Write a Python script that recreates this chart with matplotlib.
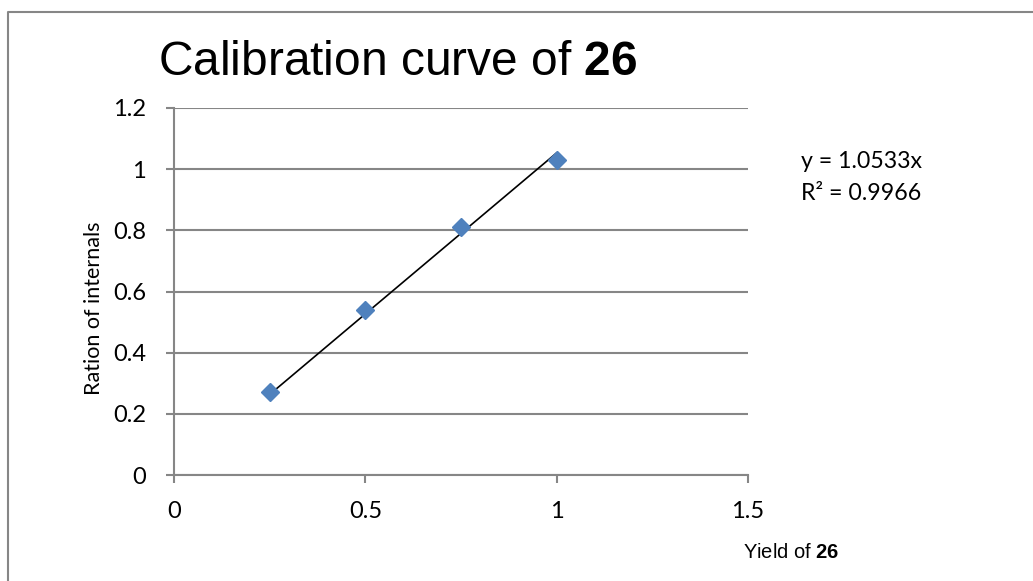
import matplotlib.pyplot as plt
import numpy as np
from matplotlib.lines import Line2D

# calibration data
yield_26 = [0.25, 0.5, 0.75, 1.0]
ratio = [0.27, 0.54, 0.81, 1.03]
x_ticks = [0, 0.5, 1, 1.5]
x_tick_labels = ["0", "0.5", "1", "1.5"]
y_ticks = [0, 0.2, 0.4, 0.6, 0.8, 1.0, 1.2]
y_tick_labels = ["0", "0.2", "0.4", "0.6", "0.8", "1", "1.2"]
eq_text = "y = 1.0533x"
r2_text = "R² = 0.9966"

grid_col = "#868686"
marker_col = "#4F81BD"

# bold "26" in the same Arial-like face
plt.rcParams["mathtext.fontset"] = "custom"
plt.rcParams["mathtext.rm"] = "Liberation Sans"
plt.rcParams["mathtext.bf"] = "Liberation Sans:bold"

fig = plt.figure(figsize=(10.33, 5.81), dpi=100)
ax = fig.add_axes([174 / 1033, 1 - 475 / 581, (748 - 174) / 1033, (475 - 108) / 581])

x = np.array(yield_26)
y = np.array(ratio)
# linear fit through origin
slope = np.sum(x * y) / np.sum(x * x)
xs = np.array([x.min(), x.max()])
ax.plot(xs, slope * xs, color="black", lw=1.2, zorder=3)
ax.plot(x, y, "D", color=marker_col, ms=9.5, mec=marker_col, zorder=4)

ax.set_xlim(0, 1.5)
ax.set_ylim(0, 1.2)
ax.set_xticks(x_ticks)
ax.set_xticklabels(x_tick_labels)
ax.set_yticks(y_ticks)
ax.set_yticklabels(y_tick_labels)
ax.yaxis.grid(True, color=grid_col, lw=1.5)
ax.set_axisbelow(True)
for s in ["top", "right"]:
    ax.spines[s].set_visible(False)
for s in ["left", "bottom"]:
    ax.spines[s].set_color(grid_col)
    ax.spines[s].set_linewidth(1.5)
ax.tick_params(axis="both", color=grid_col, width=1.5, length=6, labelsize=17)
ax.tick_params(axis="y", pad=14)
ax.tick_params(axis="x", pad=13)
for lab in ax.get_xticklabels() + ax.get_yticklabels():
    lab.set_family("Lato")

ax.set_ylabel("Ration of internals", family="Lato", fontsize=15.5)
ax.yaxis.set_label_coords((104 - 174) / 574, (475 - 308) / 367)

fig.text(158 / 1033, 1 - 75 / 581, "Calibration curve of $\\mathbf{26}$",
         family="Liberation Sans", fontsize=34.5, va="baseline", ha="left")
fig.text(743 / 1033, 1 - 552 / 581, "Yield of $\\mathbf{26}$",
         family="Liberation Sans", fontsize=14.5, va="center", ha="left")
fig.text(801 / 1033, 1 - 162 / 581, eq_text, family="Lato", fontsize=16.7,
         va="center", ha="left")
fig.text(801 / 1033, 1 - 194 / 581, r2_text, family="Lato", fontsize=16.7,
         va="center", ha="left")

# chart frame (top and left edges visible)
fig.add_artist(Line2D([8 / 1033, 8 / 1033, 1.0], [0.0, 1 - 12 / 581, 1 - 12 / 581],
                      transform=fig.transFigure, color=grid_col, lw=1.5))

fig.savefig("out.png", dpi=100)
